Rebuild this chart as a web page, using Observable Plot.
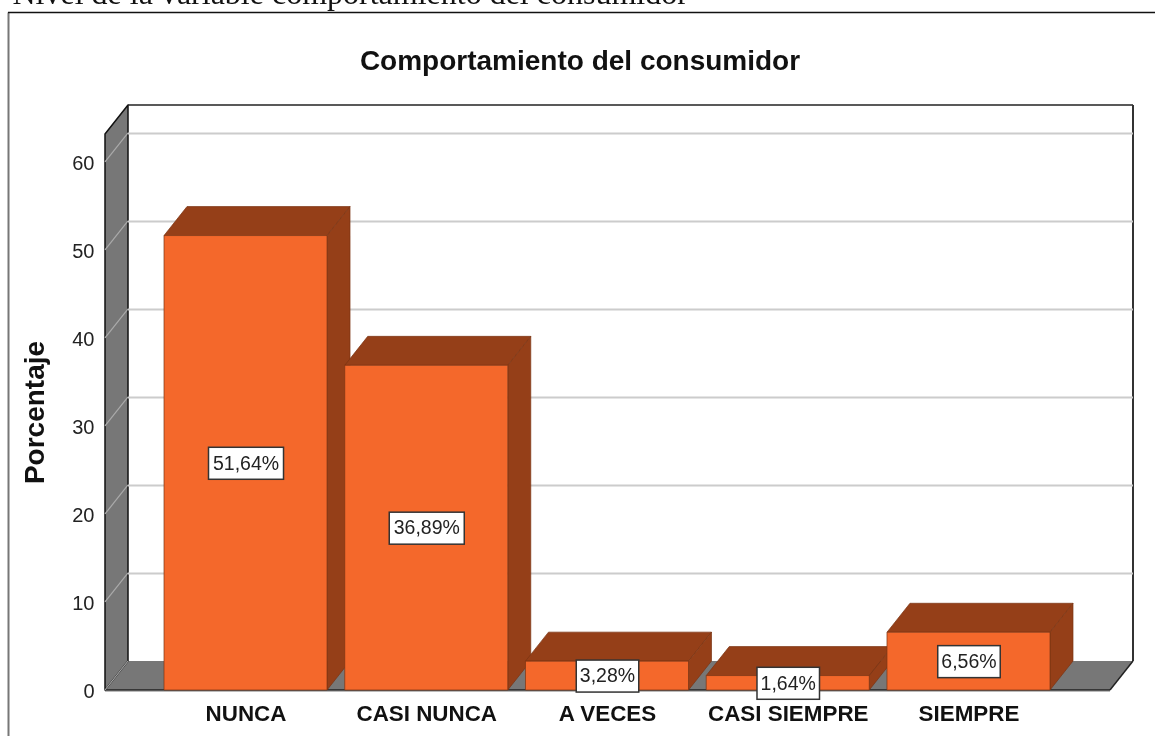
<!DOCTYPE html>
<html lang="es">
<head>
<meta charset="utf-8">
<style>html,body{margin:0;padding:0;background:#fff;overflow:hidden}svg{display:block;filter:blur(0.4px)}</style>
<script src="https://cdn.jsdelivr.net/npm/d3@7"></script>
<script src="https://cdn.jsdelivr.net/npm/@observablehq/plot@0.6"></script>
</head>
<body>
<div id="chart"></div>
<script>
const categorias = ["NUNCA", "CASI NUNCA", "A VECES", "CASI SIEMPRE", "SIEMPRE"];
const porcentajes = [51.64, 36.89, 3.28, 1.64, 6.56];
const etiquetas = ["51,64%", "36,89%", "3,28%", "1,64%", "6,56%"];
const marcasY = [0, 10, 20, 30, 40, 50, 60];
const titulo = "Comportamiento del consumidor";
const encabezado = "Nivel de la variable comportamiento del consumidor";
const ejeY = "Porcentaje";

const filas = categorias.map((c, i) => ({c, v: porcentajes[i], e: etiquetas[i]}));
const DX = 23, DY = -29;
const FONT = "'Liberation Sans', Arial, sans-serif";
const FRENTE = "#F4682B", OSCURO = "#953F18", BORDE = "#7A3312", GRIS = "#777777";

const ns = "http://www.w3.org/2000/svg";
function poly(g, pts, fill, stroke, w) {
  const p = document.createElementNS(ns, "polygon");
  p.setAttribute("points", pts.map(q => q.join(",")).join(" "));
  p.setAttribute("fill", fill);
  if (stroke) { p.setAttribute("stroke", stroke); p.setAttribute("stroke-width", w || 1); p.setAttribute("stroke-linejoin", "round"); }
  g.appendChild(p);
}
function seg(g, a, b, stroke, w) {
  const l = document.createElementNS(ns, "line");
  l.setAttribute("x1", a[0]); l.setAttribute("y1", a[1]); l.setAttribute("x2", b[0]); l.setAttribute("y2", b[1]);
  l.setAttribute("stroke", stroke); l.setAttribute("stroke-width", w || 1);
  g.appendChild(l);
}

// Marco exterior, paredes y suelo, a partir de las dimensiones del gráfico
function paredes(index, scales, values, dim) {
  const g = document.createElementNS(ns, "g");
  const L = dim.marginLeft, R = dim.width - dim.marginRight, T = dim.marginTop, B = dim.height - dim.marginBottom;
  seg(g, [8.5, 12.5], [8.5, dim.height], "#777", 2);
  seg(g, [8, 12.5], [dim.width, 12.5], "#111", 1.5);
  poly(g, [[L, B], [L + DX, B + DY], [R + DX, B + DY], [R, B]], GRIS);
  poly(g, [[L, T], [L + DX, T + DY], [L + DX, B + DY], [L, B]], GRIS, "#111", 1.5);
  seg(g, [L + DX, T + DY], [R + DX, T + DY], "#222", 1.6);
  seg(g, [R + DX, T + DY], [R + DX, B + DY], "#333", 2);
  seg(g, [R + DX, B + DY], [R, B], "#222", 1.5);
  seg(g, [L, B], [R, B], "#222", 1.5);
  seg(g, [L, B + 1.5], [R, B + 1.5], "#bbb", 1);
  for (const t of marcasY) {
    const y = scales.y(t);
    seg(g, [L, y], [L + DX, y + DY], "#aaa", 1.2);
  }
  return g;
}

// Barras 3D: cara superior y lateral desplazadas desde la escala
function barras3D(index, scales) {
  const g = document.createElementNS(ns, "g");
  const w = scales.x.bandwidth();
  const y0 = scales.y(0);
  for (const i of index) {
    const x0 = scales.x(categorias[i]), x1 = x0 + w, y1 = scales.y(porcentajes[i]);
    poly(g, [[x0, y1], [x0 + DX, y1 + DY], [x1 + DX, y1 + DY], [x1, y1]], OSCURO, BORDE, 0.7);
    poly(g, [[x1, y1], [x1 + DX, y1 + DY], [x1 + DX, y0 + DY], [x1, y0]], OSCURO, BORDE, 0.7);
    poly(g, [[x0, y1], [x1, y1], [x1, y0], [x0, y0]], FRENTE, BORDE, 0.7);
  }
  return g;
}

// Recuadro blanco detrás de cada etiqueta
function conRecuadro(index, scales, values, dim, ctx, next) {
  const g = next(index, scales, values, dim, ctx);
  const first = g.firstChild;
  for (const i of index) {
    const w = etiquetas[i].length * 12.5, h = 32;
    const r = document.createElementNS(ns, "rect");
    r.setAttribute("x", values.x[i] - w / 2);
    r.setAttribute("y", values.y[i] - h / 2);
    r.setAttribute("width", w);
    r.setAttribute("height", h);
    r.setAttribute("fill", "#fff");
    r.setAttribute("stroke", "#333");
    r.setAttribute("stroke-width", 1.5);
    g.insertBefore(r, first);
  }
  return g;
}

const chart = Plot.plot({
  width: 1155,
  height: 736,
  marginLeft: 105,
  marginRight: 45,
  marginTop: 134,
  marginBottom: 46,
  style: {background: "#fff", fontFamily: FONT, color: "#111"},
  x: {type: "band", domain: categorias, range: [164, 1050], paddingInner: 0.098, paddingOuter: 0, align: 0, round: false, label: null},
  y: {domain: [0, 63.18], range: [690, 134], label: null},
  marks: [
    paredes,
    Plot.ruleY(marcasY.filter(t => t > 0), {y: d => d, dx: DX, dy: DY, stroke: "#cccccc", strokeWidth: 2}),
    Plot.barY(filas, {x: "c", y: "v", render: barras3D}),
    Plot.axisY(marcasY, {tickSize: 0, tickPadding: 11, dy: 1, fontSize: 20, fill: "#222", label: null}),
    Plot.axisX(categorias, {tickSize: 0, tickPadding: 15, fontSize: 22.4, fontWeight: "bold", fill: "#111", label: null}),
    Plot.text(filas, {x: "c", y: d => d.v / 2, text: "e", fontSize: 19.5, fill: "#222", render: conRecuadro}),
    Plot.text([titulo], {frameAnchor: "top", dx: -28, dy: -73, lineAnchor: "middle", fontSize: 28, fontWeight: "bold", fill: "#111"}),
    Plot.text([ejeY], {frameAnchor: "left", dx: -70, textAnchor: "middle", rotate: -90, fontSize: 28, fontWeight: "bold", fill: "#111"}),
    Plot.text([encabezado], {frameAnchor: "top-left", dx: -93, dy: -141, lineAnchor: "middle", fontSize: 32, fontFamily: "'Liberation Serif', serif", fill: "#111"})
  ]
});
document.getElementById("chart").appendChild(chart);
</script>
</body>
</html>
